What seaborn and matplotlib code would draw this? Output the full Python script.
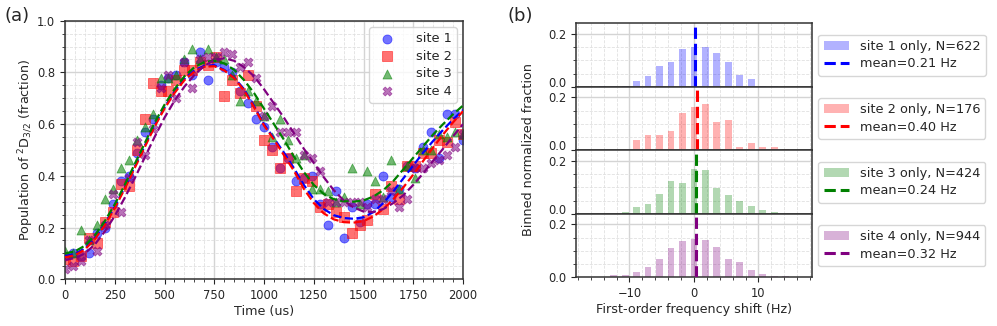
import matplotlib
matplotlib.use('Agg')
import matplotlib.pyplot as plt
from matplotlib.ticker import MultipleLocator
import seaborn as sns

sns.set_style('ticks')
plt.rcParams['font.family'] = ['DejaVu Sans']
plt.rcParams['axes.edgecolor'] = '#333333'
plt.rcParams['axes.linewidth'] = 1.1

# ---- panel (a): population vs time ----
sites = ['site 1', 'site 2', 'site 3', 'site 4']
site_colors = ['blue', 'red', 'green', 'purple']
site_markers = ['o', 's', '^', 'X']

t_data = list(range(0, 2001, 40))
pop_site1 = [0.09, 0.10, 0.09, 0.10, 0.18, 0.20, 0.29, 0.38, 0.40, 0.49,
             0.57, 0.62, 0.75, 0.78, 0.79, 0.84, 0.79, 0.88, 0.77, 0.84,
             0.82, 0.80, 0.73, 0.68, 0.62, 0.59, 0.51, 0.43, 0.47, 0.38,
             0.39, 0.40, 0.29, 0.21, 0.34, 0.16, 0.28, 0.22, 0.29, 0.29,
             0.40, 0.32, 0.35, 0.44, 0.43, 0.51, 0.57, 0.47, 0.64, 0.64, 0.54]
pop_site2 = [0.08, 0.07, 0.09, 0.16, 0.14, 0.22, 0.26, 0.37, 0.36, 0.50,
             0.62, 0.76, 0.73, 0.73, 0.77, 0.81, 0.81, 0.84, 0.83, 0.86,
             0.71, 0.77, 0.72, 0.79, 0.67, 0.54, 0.50, 0.43, 0.47, 0.34,
             0.39, 0.38, 0.28, 0.29, 0.26, 0.24, 0.18, 0.21, 0.23, 0.33,
             0.27, 0.36, 0.31, 0.44, 0.44, 0.49, 0.49, 0.54, 0.53, 0.61, 0.56]
pop_site3 = [0.11, 0.10, 0.19, 0.15, 0.21, 0.31, 0.35, 0.43, 0.46, 0.54,
             0.59, 0.64, 0.78, 0.78, 0.79, 0.85, 0.89, 0.85, 0.89, 0.86,
             0.85, 0.79, 0.69, 0.73, 0.69, 0.63, 0.55, 0.62, 0.54, 0.47,
             0.48, 0.35, 0.35, 0.34, 0.30, 0.32, 0.43, 0.29, 0.42, 0.38,
             0.32, 0.46, 0.35, 0.44, 0.39, 0.50, 0.50, 0.56, 0.55, 0.57, 0.56]
pop_site4 = [0.04, 0.05, 0.07, 0.15, 0.11, 0.21, 0.33, 0.26, 0.39, 0.53,
             0.48, 0.58, 0.74, 0.79, 0.70, 0.84, 0.74, 0.85, 0.86, 0.86,
             0.88, 0.87, 0.82, 0.84, 0.78, 0.63, 0.67, 0.57, 0.57, 0.57,
             0.48, 0.47, 0.42, 0.30, 0.30, 0.30, 0.30, 0.30, 0.28, 0.31,
             0.31, 0.34, 0.28, 0.31, 0.43, 0.43, 0.45, 0.46, 0.48, 0.51, 0.56]

t_fit = list(range(0, 2001, 50))
fit_site1 = [0.090, 0.098, 0.120, 0.160, 0.215, 0.280, 0.355, 0.435, 0.515, 0.595,
             0.665, 0.725, 0.775, 0.808, 0.826, 0.828, 0.810, 0.780, 0.735, 0.670,
             0.600, 0.545, 0.490, 0.430, 0.365, 0.310, 0.272, 0.248, 0.237, 0.234,
             0.240, 0.260, 0.295, 0.340, 0.390, 0.440, 0.490, 0.535, 0.578, 0.618, 0.655]
fit_site2 = [0.085, 0.093, 0.115, 0.155, 0.210, 0.275, 0.350, 0.430, 0.510, 0.590,
             0.660, 0.720, 0.770, 0.803, 0.822, 0.824, 0.808, 0.778, 0.730, 0.665,
             0.595, 0.540, 0.480, 0.420, 0.350, 0.295, 0.255, 0.232, 0.221, 0.219,
             0.225, 0.243, 0.272, 0.310, 0.355, 0.405, 0.458, 0.510, 0.560, 0.607, 0.650]
fit_site3 = [0.100, 0.108, 0.130, 0.170, 0.225, 0.290, 0.365, 0.445, 0.525, 0.605,
             0.675, 0.735, 0.785, 0.820, 0.840, 0.845, 0.835, 0.810, 0.770, 0.720,
             0.660, 0.600, 0.540, 0.475, 0.415, 0.365, 0.330, 0.310, 0.302, 0.300,
             0.305, 0.320, 0.345, 0.380, 0.425, 0.470, 0.515, 0.560, 0.600, 0.638, 0.672]
fit_site4 = [0.075, 0.082, 0.100, 0.135, 0.185, 0.245, 0.315, 0.390, 0.470, 0.550,
             0.625, 0.690, 0.745, 0.790, 0.825, 0.848, 0.855, 0.845, 0.820, 0.785,
             0.735, 0.680, 0.625, 0.565, 0.505, 0.450, 0.395, 0.345, 0.305, 0.278,
             0.262, 0.260, 0.272, 0.295, 0.325, 0.365, 0.410, 0.458, 0.505, 0.553, 0.600]

pop_all = [pop_site1, pop_site2, pop_site3, pop_site4]
fit_all = [fit_site1, fit_site2, fit_site3, fit_site4]

# ---- panel (b): histograms of frequency shift ----
bin_centers = [-14.24, -12.46, -10.68, -8.90, -7.12, -5.34, -3.56, -1.78, 0.0,
               1.78, 3.56, 5.34, 7.12, 8.90, 10.68, 12.46, 14.24]
hist_site1 = [0.003, 0.003, 0.005, 0.021, 0.040, 0.077, 0.094, 0.143, 0.150,
              0.152, 0.127, 0.092, 0.044, 0.028, 0.004, 0.004, 0.0]
hist_site2 = [0.0, 0.0, 0.0, 0.039, 0.057, 0.057, 0.073, 0.142, 0.165,
              0.175, 0.107, 0.113, 0.011, 0.026, 0.011, 0.011, 0.004]
hist_site3 = [0.0, 0.0, 0.009, 0.025, 0.036, 0.075, 0.123, 0.117, 0.169,
              0.165, 0.096, 0.072, 0.048, 0.029, 0.013, 0.006, 0.0]
hist_site4 = [0.0, 0.011, 0.009, 0.020, 0.040, 0.068, 0.113, 0.138, 0.144,
              0.143, 0.114, 0.069, 0.058, 0.028, 0.013, 0.005, 0.004]
hist_all = [hist_site1, hist_site2, hist_site3, hist_site4]
site_counts = [622, 176, 424, 944]
site_means = [0.21, 0.40, 0.24, 0.32]

TICK_FS = 8.3
LABEL_FS = 9.2
LEG_FS = 9.3

fig = plt.figure(figsize=(9.97, 3.26), dpi=100)

# left panel
ax = fig.add_axes([0.0652, 0.1433, 0.3992, 0.7932])
for site, c, m, pop in zip(sites, site_colors, site_markers, pop_all):
    sns.scatterplot(x=t_data, y=pop, marker=m, color=c, s=42, alpha=0.55,
                    edgecolor=c, linewidth=0.6, label=site, ax=ax, zorder=2)
for c, fit in zip(site_colors, fit_all):
    sns.lineplot(x=t_fit, y=fit, color=c, linestyle='--', linewidth=1.6,
                 ax=ax, zorder=3)
ax.set_xlim(0, 2000)
ax.set_ylim(0, 1)
ax.xaxis.set_major_locator(MultipleLocator(250))
ax.xaxis.set_minor_locator(MultipleLocator(50))
ax.yaxis.set_major_locator(MultipleLocator(0.2))
ax.yaxis.set_minor_locator(MultipleLocator(0.05))
ax.grid(which='major', color='#d4d4d4', linewidth=1.0)
ax.grid(which='minor', color='#e0e0e0', linestyle='--', linewidth=0.6)
ax.set_axisbelow(True)
ax.tick_params(labelsize=TICK_FS)
ax.set_xlabel('Time (us)', fontsize=LABEL_FS, labelpad=2)
ax.set_ylabel('Population of $^{2}$D$_{3/2}$ (fraction)', fontsize=LABEL_FS,
              labelpad=1)
h, l = ax.get_legend_handles_labels()
ax.legend(h, l, loc='upper right', fontsize=LEG_FS, labelspacing=0.35,
          handletextpad=1.2)

# right panel, four stacked histograms
gs = fig.add_gridspec(4, 1, left=0.5777, right=0.8144, top=0.9285,
                      bottom=0.1490, hspace=0)
axes = gs.subplots(sharex=True)
for i, (bax, c, hist, n, mu) in enumerate(zip(axes, site_colors, hist_all,
                                                site_counts, site_means)):
    sns.barplot(x=bin_centers, y=hist, native_scale=True, width=0.6, color=c,
                alpha=0.3, saturation=1, linewidth=0, errorbar=None, ax=bax,
                zorder=2)
    line = bax.axvline(mu, color=c, linestyle='--', linewidth=2.2, zorder=3,
                       label=f'mean={mu:.2f} Hz')
    bars = bax.containers[0]
    bars.set_label(f'site {i + 1} only, N={n}')
    bax.legend([bars, line], [bars.get_label(), line.get_label()],
               loc='center left', bbox_to_anchor=(1.0, 0.5),
               fontsize=LEG_FS, labelspacing=0.35)
    bax.set_ylim(0, 0.24)
    bax.set_yticks([0.0, 0.2])
    bax.yaxis.set_minor_locator(MultipleLocator(0.05))
    bax.set_xlim(-18.3, 18.3)
    bax.xaxis.set_major_locator(MultipleLocator(10))
    bax.xaxis.set_minor_locator(MultipleLocator(2))
    bax.grid(which='major', color='#d4d4d4', linewidth=1.0)
    bax.grid(which='minor', color='#e0e0e0', linestyle='--', linewidth=0.6)
    bax.set_axisbelow(True)
    bax.tick_params(labelsize=TICK_FS)
    bax.set_xlabel('')
    bax.set_ylabel('')
    if i < 3:
        bax.tick_params(axis='x', which='both', length=0)
        # keep the 0.0 label clear of the 0.2 label of the panel below
        bax.get_yticklabels()[0].set_verticalalignment('baseline')

axes[-1].set_xlabel('First-order frequency shift (Hz)', fontsize=LABEL_FS,
                    labelpad=2)
fig.text(0.5296, 0.54, 'Binned normalized fraction', rotation=90,
         ha='center', va='center', fontsize=LABEL_FS)

fig.text(0.005, 0.98, '(a)', fontsize=13, va='top', ha='left')
fig.text(0.5095, 0.98, '(b)', fontsize=13, va='top', ha='left')

fig.savefig('out.png', dpi=100)
